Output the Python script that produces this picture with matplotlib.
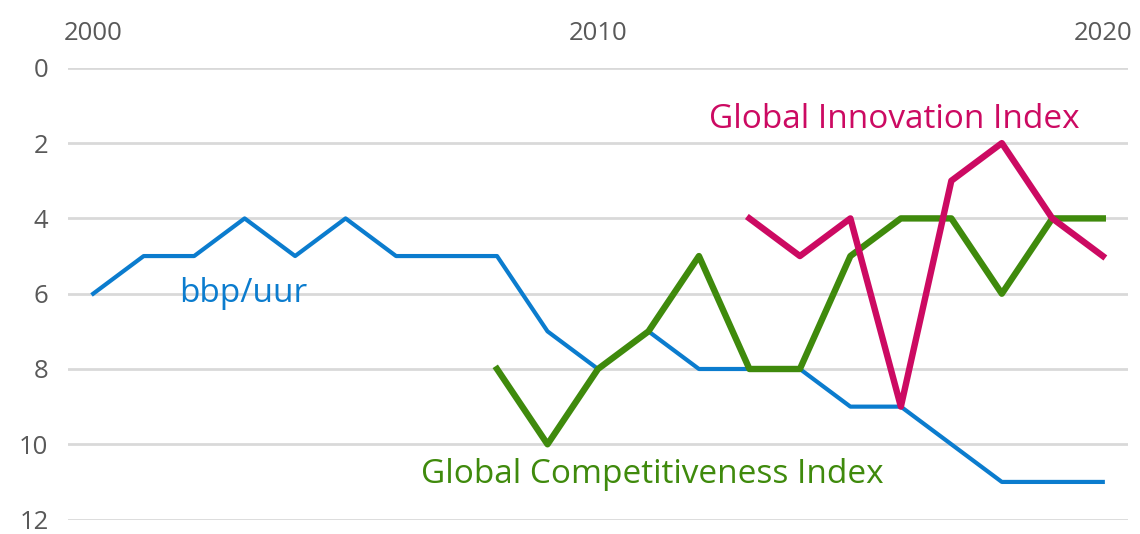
import matplotlib.pyplot as plt
import numpy as np

plt.rcParams['font.family'] = ['Open Sans', 'DejaVu Sans']

# Ranking per jaar (lager = beter)
years_bbp = np.arange(2000, 2021)
bbp_uur = [6, 5, 5, 4, 5, 4, 5, 5, 5, 7, 8, 7, 8, 8, 8, 9, 9, 10, 11, 11, 11]

years_gci = np.arange(2008, 2021)
gci = [8, 10, 8, 7, 5, 8, 8, 5, 4, 4, 6, 4, 4]

years_gii = np.arange(2013, 2021)
gii = [4, 5, 4, 9, 3, 2, 4, 5]

blue = '#0b7cce'
green = '#3f8a0c'
pink = '#cc0a62'
grey = '#595959'

fig = plt.figure(figsize=(11.4, 5.34), dpi=100)
ax = fig.add_axes([0.0596, 0.027, 0.9299, 0.846])

ax.plot(years_bbp, bbp_uur, color=blue, lw=3.0, solid_joinstyle='round')
ax.plot(years_gci, gci, color=green, lw=4.6, solid_joinstyle='round')
ax.plot(years_gii, gii, color=pink, lw=4.6, solid_joinstyle='round')

ax.set_xlim(1999.5, 2020.5)
ax.set_ylim(12, 0)
ax.set_yticks(np.arange(0, 13, 2))
ax.set_xticks([2000, 2010, 2020])
ax.xaxis.tick_top()
ax.grid(axis='y', color='#d9d9d9', lw=2)
ax.set_axisbelow(True)
for s in ax.spines.values():
    s.set_visible(False)
ax.tick_params(length=0, labelsize=18.5, colors=grey)
ax.tick_params(axis='y', pad=14)
ax.tick_params(axis='x', pad=16)

ax.text(2001.7, 6.0, 'bbp/uur', color=blue, fontsize=24, va='center')
ax.text(2012.2, 1.37, 'Global Innovation Index', color=pink, fontsize=24, va='center')
ax.text(2006.5, 10.8, 'Global Competitiveness Index', color=green, fontsize=24, va='center')

fig.savefig('out.png')
